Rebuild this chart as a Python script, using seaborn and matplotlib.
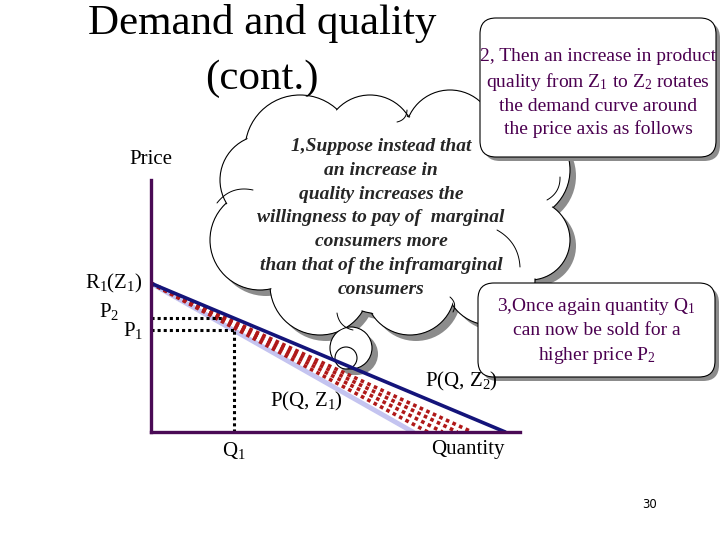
import numpy as np
import matplotlib
matplotlib.use("Agg")
import matplotlib.pyplot as plt
from matplotlib.patches import Circle, FancyBboxPatch
import seaborn as sns

# demand curves (price axis intercept shared, quantity intercepts differ)
R1 = 5.9                      # R1(Z1), common price intercept
Q_INTERCEPT_Z1 = 7.1          # P(Q, Z1)
Q_INTERCEPT_Z2 = 9.6          # P(Q, Z2)
ROTATION_INTERCEPTS = [7.5, 7.9, 8.3, 8.7]   # red dotted rotation fan
Q1 = 2.25

TITLE = "Demand and quality\n(cont.)"
CLOUD_TEXT = ("1,Suppose instead that\nan increase in\nquality increases the\n"
              "willingness to pay of  marginal\nconsumers more\n"
              "than that of the inframarginal\nconsumers")
BOX2_TEXT = ("2, Then an increase in product\nquality from Z$_1$ to Z$_2$ rotates\n"
             "the demand curve around\nthe price axis as follows")
BOX3_TEXT = "3,Once again quantity Q$_1$\ncan now be sold for a\nhigher price P$_2$"

P1 = R1 * (1 - Q1 / Q_INTERCEPT_Z1)
P2 = R1 * (1 - Q1 / Q_INTERCEPT_Z2)

sns.set_theme(style="white")
plt.rcParams["font.family"] = ["Liberation Serif", "DejaVu Serif"]
plt.rcParams["mathtext.default"] = "regular"

PURPLE = "#4a0a55"
TXT_PURPLE = "#4b0050"
NAVY = "#14147a"
LAVENDER = "#c4c4f0"
RED = "#b01818"

fig = plt.figure(figsize=(7.2, 5.4), dpi=100)

# background layer in pixel coordinates for slide decorations
bg = fig.add_axes([0, 0, 1, 1], zorder=0)
bg.set_xlim(0, 720)
bg.set_ylim(540, 0)
bg.axis("off")

bg.text(262, 51, TITLE, ha="center", va="center", fontsize=31, color="black",
        linespacing=1.55)
bg.text(650, 505, "30", ha="center", va="center", fontsize=8.5,
        family=["DejaVu Sans"], color="black")

# thought cloud made of overlapping circles
lobes = [(300, 150, 55), (370, 140, 45), (450, 135, 45), (520, 170, 50),
         (530, 240, 40), (490, 280, 45), (410, 290, 45), (320, 285, 50),
         (260, 240, 50), (265, 180, 45), (390, 215, 100), (300, 215, 70),
         (470, 215, 70)]
bubbles = [(351, 348, 21), (346, 358, 11)]
for cx, cy, r in lobes + bubbles:
    bg.add_patch(Circle((cx + 6, cy + 6), r, facecolor="#8c8c8c", edgecolor="none", zorder=1))
for cx, cy, r in lobes + bubbles:
    bg.add_patch(Circle((cx, cy), r, facecolor="white", edgecolor="black", lw=0.8, zorder=2))
for cx, cy, r in lobes:
    bg.add_patch(Circle((cx, cy), r - 1.2, facecolor="white", edgecolor="none", zorder=3))

# small inner creases of the cloud
creases = [((217, 203), (253, 190), -6), ((497, 230), (520, 267), -6),
           ((547, 200), (560, 177), 4), ((337, 313), (353, 330), 4),
           ((450, 297), (453, 312), -3), ((397, 122), (407, 110), 3)]
for (x0, y0), (x1, y1), b in creases:
    t = np.linspace(0, 1, 20)
    nx, ny = -(y1 - y0), (x1 - x0)
    nl = np.hypot(nx, ny)
    xs = x0 + (x1 - x0) * t + b * nx / nl * 4 * t * (1 - t)
    ys = y0 + (y1 - y0) * t + b * ny / nl * 4 * t * (1 - t)
    bg.plot(xs, ys, color="black", lw=0.7, zorder=3.5)

bg.text(381, 218, CLOUD_TEXT, ha="center", va="center", fontsize=14,
        fontweight="bold", fontstyle="italic", linespacing=1.52, zorder=4)


def callout(x0, y0, x1, y1, text, cy):
    bg.add_patch(FancyBboxPatch((x0 + 4, y0 + 4), x1 - x0, y1 - y0,
                                boxstyle="round,pad=0,rounding_size=16",
                                facecolor="#8c8c8c", edgecolor="none", zorder=5))
    bg.add_patch(FancyBboxPatch((x0, y0), x1 - x0, y1 - y0,
                                boxstyle="round,pad=0,rounding_size=16",
                                facecolor="white", edgecolor="black", lw=0.8, zorder=6))
    bg.text((x0 + x1) / 2, cy, text, ha="center", va="center", fontsize=14,
            color=TXT_PURPLE, linespacing=1.38, zorder=7)


callout(480, 18, 716, 157, BOX2_TEXT, 93)
callout(478, 283, 715, 377, BOX3_TEXT, 331)

# the diagram itself
ax = fig.add_axes([151 / 720, 108 / 540, 369 / 720, 252 / 540], zorder=2)
ax.patch.set_alpha(0)
ax.set_xlim(0, 10)
ax.set_ylim(0, 10)
for side in ["top", "right"]:
    ax.spines[side].set_visible(False)
for side in ["left", "bottom"]:
    ax.spines[side].set_color(PURPLE)
    ax.spines[side].set_linewidth(2.4)
ax.set_xticks([])
ax.set_yticks([])

sns.lineplot(x=[0, Q_INTERCEPT_Z1], y=[R1, 0], ax=ax, color=LAVENDER, lw=3.5)
for qi in ROTATION_INTERCEPTS:
    sns.lineplot(x=[0, qi], y=[R1, 0], ax=ax, color=RED, lw=2.6,
                 linestyle=(0, (1.0, 1.0)))
sns.lineplot(x=[0, Q_INTERCEPT_Z2], y=[R1, 0], ax=ax, color=NAVY, lw=2.6)

# dotted guides for Q1, P1, P2
ax.plot([0, Q1], [P1, P1], color="black", lw=2.2, linestyle=(0, (1, 1)))
ax.plot([Q1, Q1], [0, P1], color="black", lw=2.2, linestyle=(0, (1, 1)))
ax.plot([0, Q1 * 0.85], [P2, P2], color="black", lw=2.2, linestyle=(0, (1, 1)))

lab = dict(fontsize=15, color="black", clip_on=False)
ax.text(0, 10.8, "Price", ha="center", va="center", **lab)
ax.text(-0.22, R1, "R$_1$(Z$_1$)", ha="right", va="center", **lab)
ax.text(-0.85, P2 + 0.25, "P$_2$", ha="right", va="center", **lab)
ax.text(-0.22, P1, "P$_1$", ha="right", va="center", **lab)
ax.text(Q1, -0.75, "Q$_1$", ha="center", va="center", **lab)
ax.text(8.6, -0.7, "Quantity", ha="center", va="center", **lab)
ax.text(4.2, 1.2, "P(Q, Z$_1$)", ha="center", va="center", **lab)
ax.text(8.4, 2.0, "P(Q, Z$_2$)", ha="center", va="center", **lab)

fig.savefig("out.png", dpi=100)
